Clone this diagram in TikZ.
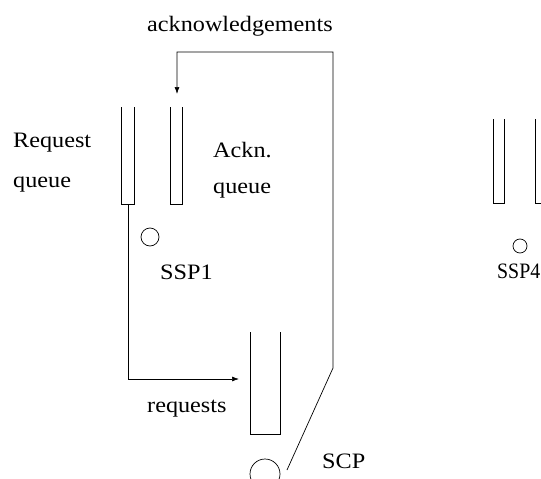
\documentclass[tikz,border=0pt]{standalone}
\usepackage{fontspec}
\setmainfont{Liberation Serif}
\usetikzlibrary{arrows.meta}
\begin{document}
\begin{tikzpicture}[x=1pt,y=-1pt,
  line/.style={line width=0.7pt,black},
  lbl/.style={font=\fontsize{22}{26}\selectfont,inner sep=0pt,anchor=base west,xscale=1.1},
  arr/.style={line,-{Latex[length=7pt,width=5pt]}},
  proc/.style={draw,line width=0.7pt,circle,inner sep=0pt}]
\clip (0,0) rectangle (541,479);
% queues (open-topped tubes)
\draw[line] (121,107) -- (121,204) -- (134,204) -- (134,107);
\draw[line] (170,107) -- (170,204) -- (182,204) -- (182,107);
\draw[line] (250,332) -- (250,434) -- (280,434) -- (280,332);
\draw[line] (493,119) -- (493,203) -- (504,203) -- (504,119);
\draw[line] (535,119) -- (535,203) -- (547,203) -- (547,119);
% processors
\node[proc,minimum size=18pt] (ssp1) at (150,237) {};
\node[proc,minimum size=14pt] (ssp4) at (520,246) {};
\node[proc,minimum size=30pt] (scp) at (265,474) {};
% coordinates
\coordinate (reqout) at (128,204);
\coordinate (reqin) at (239,379);
\coordinate (ackin) at (177,94);
\coordinate (scpout) at (287,470);
% requests connector
\draw[arr] (reqout) |- (reqin);
% acknowledgements connector
\draw[arr] (scpout) -- (333,368) -- (333,52) -| (ackin);
% labels
\node[lbl] (tack) at (147,31) {acknowledgements};
\node[lbl] (treq) at (13,147) {Request};
\node[lbl] (treqq) at (13,187) {queue};
\node[lbl] (tackn) at (213,157) {Ackn.};
\node[lbl] (tackq) at (213,193) {queue};
\node[lbl] (tssp1) at (160,279) {SSP1};
\node[lbl] (trequests) at (147,412) {requests};
\node[lbl] (tscp) at (322,468) {SCP};
\node[lbl,xscale=0.82] (tssp4) at (497,278) {SSP4};
\end{tikzpicture}
\end{document}
